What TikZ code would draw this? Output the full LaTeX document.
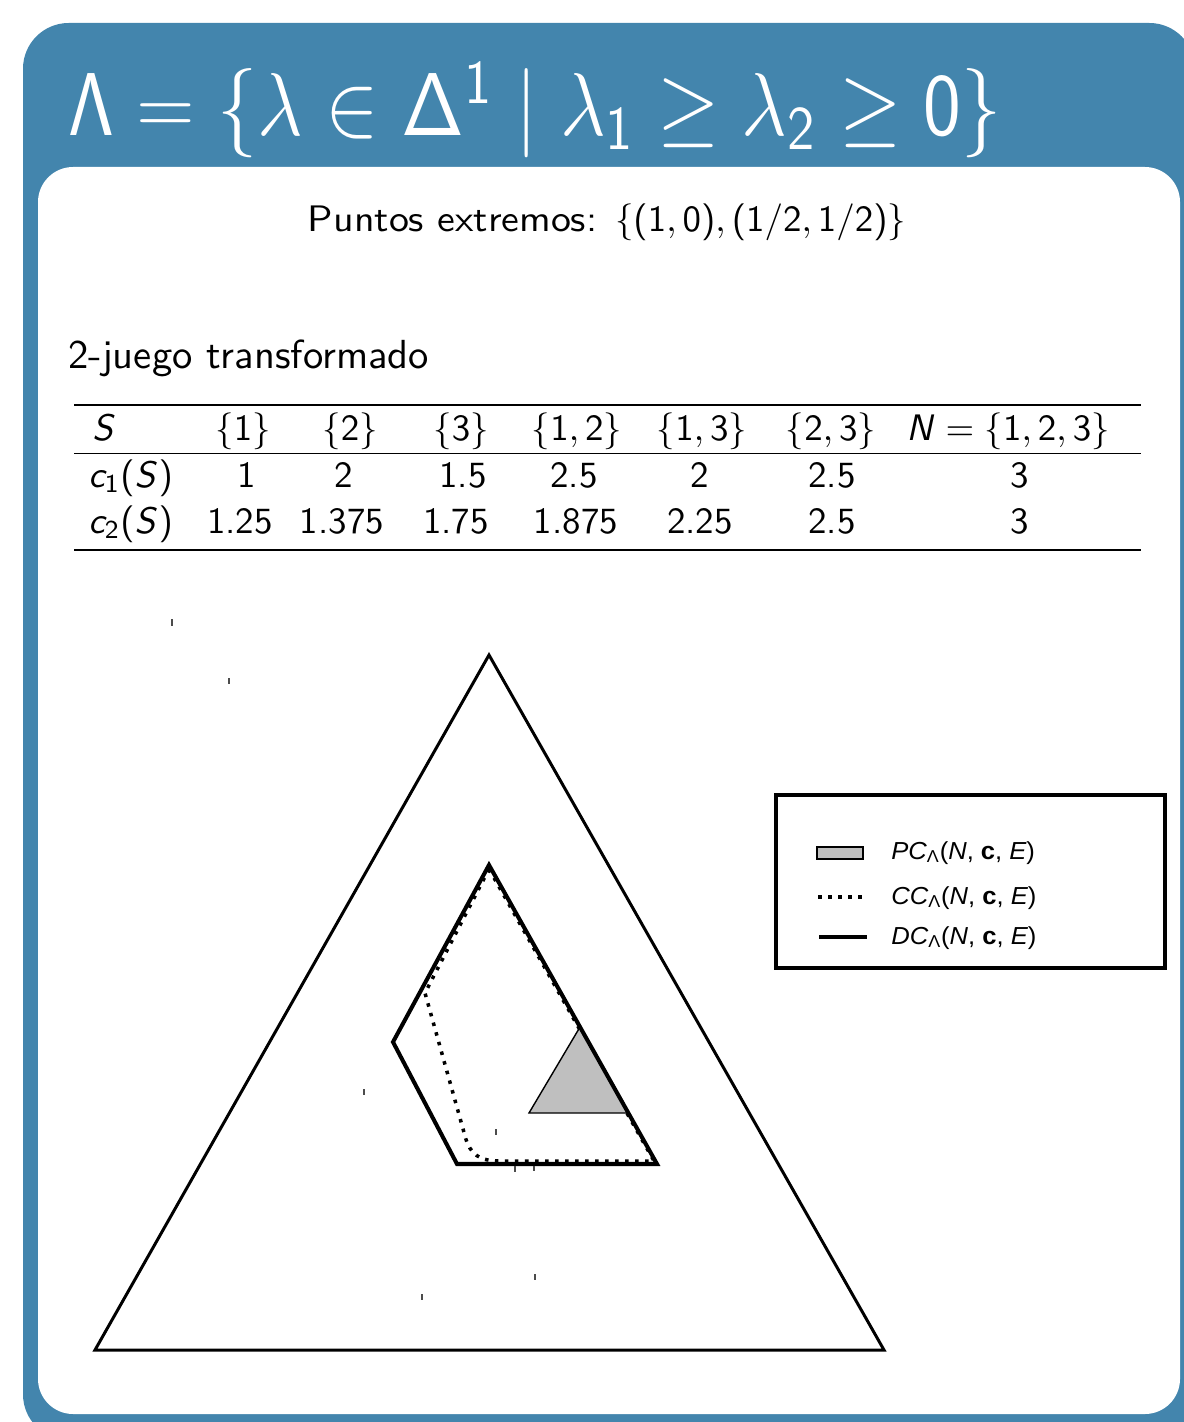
\documentclass[tikz,border=0pt]{standalone}
\usepackage[no-math]{fontspec}
\usepackage{amsmath}
\usepackage{xcolor}
\newfontfamily\legendfont{Liberation Sans}
\definecolor{blockblue}{HTML}{4385AD}
\definecolor{pcgray}{HTML}{BFBFBF}
% sans math as in the slides
\DeclareSymbolFont{sfletters}{OT1}{cmss}{m}{sl}
\SetSymbolFont{operators}{normal}{OT1}{cmss}{m}{n}
\DeclareMathSymbol{c}{\mathalpha}{sfletters}{`c}
\DeclareMathSymbol{S}{\mathalpha}{sfletters}{`S}
\DeclareMathSymbol{N}{\mathalpha}{sfletters}{`N}
% the slide is blown up as a whole
\newcommand{\slide}[1]{\scalebox{2.1}{#1}}
\newcommand{\slidetext}[1]{\scalebox{2.27}[2.1]{#1}}
\newcommand{\slidelarge}[1]{\scalebox{2.31}{#1}}
\newcommand{\slidetitle}[1]{\scalebox{2.2}[2.45]{#1}}
\newcommand{\legentry}[1]{\scalebox{1.04}[1]{\itshape #1\textsubscript{\upshape Λ}\upshape(\itshape N\upshape, \bfseries c\mdseries, \itshape E\upshape)}}
\usetikzlibrary{positioning}

\begin{document}
\begin{tikzpicture}[
  x=0.02cm, y=-0.02cm,
  titletxt/.style={text=white, inner sep=0pt, anchor=base west, font=\sffamily\huge},
  bodytxt/.style={inner sep=0pt, font=\sffamily},
  cell/.style={inner sep=0pt, anchor=base, font=\sffamily},
  legtxt/.style={inner sep=0pt, anchor=base west, font=\legendfont\fontsize{14}{16}\selectfont},
  simplex/.style={line width=1.7pt, line join=miter},
  dcline/.style={line width=2.3pt, line join=miter},
  ccline/.style={line width=2pt, dash pattern=on 2pt off 3.7pt},
  pcpatch/.style={fill=pcgray, draw=black, line width=0.8pt},
  axmark/.style={black!70, line width=0.6pt},
]
\useasboundingbox (0,0) rectangle (1183,1422);

% ================= block frame
\fill[blockblue, rounded corners=26pt] (23,23) rectangle (1195,1440);
\fill[white, rounded corners=20pt] (38,167) rectangle (1180,1414);
\node[titletxt] (title) at (68,136)
  {\slidetitle{$\Lambda = \{\lambda \in \Delta^{1} \mid \lambda_{1} \geq \lambda_{2} \geq 0\}$}};

% ================= text and table
\node[bodytxt, anchor=base] (ext) at (607,232)
  {\slidetext{Puntos extremos: }\slide{$\{(1,0),(1/2,1/2)\}$}};
\node[bodytxt, anchor=base west] (game) at (68,368) {\slidelarge{2-juego transformado}};

\draw[line width=0.6pt] (74,405) -- (1141,405);
\draw[line width=0.4pt] (74,453) -- (1141,453);
\draw[line width=0.6pt] (74,550) -- (1141,550);

\node[cell, anchor=base west] (hS) at (92,440) {\slide{$S$}};
\node[cell] (h1)   at (243,440)  {\slide{$\{1\}$}};
\node[cell] (h2)   at (350,440)  {\slide{$\{2\}$}};
\node[cell] (h3)   at (461,440)  {\slide{$\{3\}$}};
\node[cell] (h12)  at (577,440)  {\slide{$\{1,2\}$}};
\node[cell] (h13)  at (702,440)  {\slide{$\{1,3\}$}};
\node[cell] (h23)  at (831,440)  {\slide{$\{2,3\}$}};
\node[cell] (h123) at (1008,440) {\slide{$N=\{1,2,3\}$}};

\node[cell, anchor=base west] (rA) at (88,487) {\slide{$c_{1}(S)$}};
\node[cell] (a1)   at (247,487)  {\slide{1}};
\node[cell] (a2)   at (344,487)  {\slide{2}};
\node[cell] (a3)   at (463,487)  {\slide{1.5}};
\node[cell] (a12)  at (574,487)  {\slide{2.5}};
\node[cell] (a13)  at (700,487)  {\slide{2}};
\node[cell] (a23)  at (832,487)  {\slide{2.5}};
\node[cell] (a123) at (1020,487) {\slide{3}};

\node[cell, anchor=base west] (rB) at (88,533) {\slide{$c_{2}(S)$}};
\node[cell] (b1)   at (240,533)  {\slide{1.25}};
\node[cell] (b2)   at (342,533)  {\slide{1.375}};
\node[cell] (b3)   at (456,533)  {\slide{1.75}};
\node[cell] (b12)  at (576,533)  {\slide{1.875}};
\node[cell] (b13)  at (700,533)  {\slide{2.25}};
\node[cell] (b23)  at (832,533)  {\slide{2.5}};
\node[cell] (b123) at (1020,533) {\slide{3}};

% ================= the simplex and the three cores
\coordinate (top)   at (489,655);
\coordinate (left)  at (95,1350);
\coordinate (right) at (884,1350);
\draw[simplex] (top) -- (left) -- (right) -- cycle;

\draw[ccline] (489,869) -- (425,993) -- (465,1136)
  .. controls (470,1155) and (480,1161) .. (500,1161) -- (654,1161) -- cycle;

\coordinate (pA) at (580,1027);
\coordinate (pL) at (529,1113);
\coordinate (pR) at (628,1113);
\draw[pcpatch] (pA) -- (pL) -- (pR) -- cycle;

\coordinate (dA) at (489,865);
\coordinate (dL) at (393,1042);
\coordinate (dB) at (457,1164);
\coordinate (dR) at (657,1164);
\draw[dcline] (dA) -- (dL) -- (dB) -- (dR) -- cycle;

% stray marks
\draw[axmark] (172,619) -- (172,626);
\draw[axmark] (229,678) -- (229,684);
\draw[axmark] (364,1089) -- (364,1095);
\draw[axmark] (496,1129) -- (496,1135);
\draw[axmark] (515,1166) -- (515,1172);
\draw[axmark] (534,1166) -- (534,1171);
\draw[axmark] (535,1274) -- (535,1280);
\draw[axmark] (422,1294) -- (422,1300);

% ================= legend
\draw[line width=2pt] (776,795) rectangle (1165,968);
\draw[pcpatch] (817,847) rectangle (863,859);
\draw[ccline] (818,897) -- (868,897);
\draw[line width=2.8pt] (819,937) -- (867,937);
\node[legtxt] (lpc) at (891,859) {\legentry{PC}};
\node[legtxt] (lcc) at (891,904) {\legentry{CC}};
\node[legtxt] (ldc) at (891,944) {\legentry{DC}};
\end{tikzpicture}
\end{document}
